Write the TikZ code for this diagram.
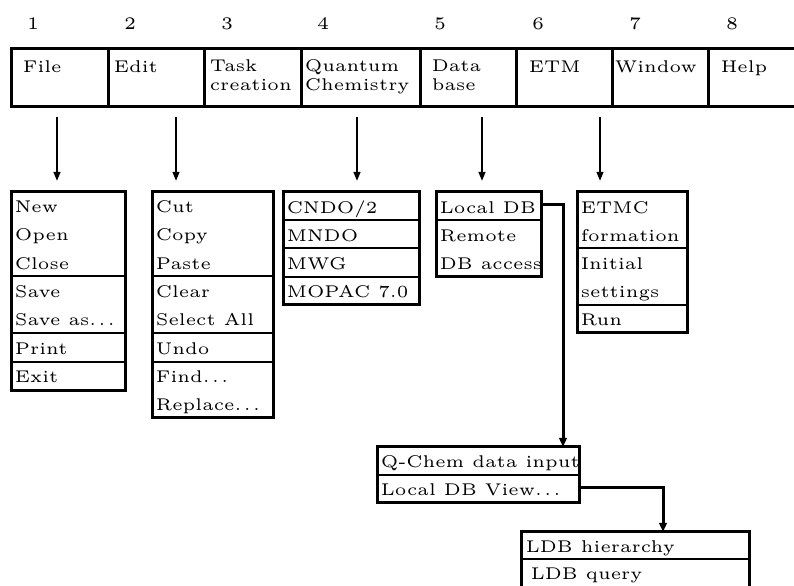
\documentclass[tikz,border=0pt]{standalone}
\usetikzlibrary{arrows.meta}

\newcommand{\ddd}{.\kern.6pt.\kern.6pt.}
\tikzset{
  menu/.style={line width=0.75pt},
  sep/.style={line width=0.55pt},
  item/.style={anchor=base west, inner sep=0pt, font=\fontsize{4.25}{5}\selectfont},
  num/.style={anchor=base, inner sep=0pt, font=\fontsize{4.4}{5}\selectfont},
  arr/.style={line width=0.5pt, -{Triangle[length=2.3pt,width=1.7pt]}},
  link/.style={line width=0.75pt, -{Triangle[length=2.3pt,width=1.9pt]}}
}

\begin{document}
\begin{tikzpicture}[x=0.25pt,y=-0.25pt]
\useasboundingbox (0,0) rectangle (794,586);
% menu bar
\node[num] (n1) at (33,30) {1}; \node[num] (n2) at (130,30) {2}; \node[num] (n3) at (227,30) {3}; \node[num] (n4) at (323,30) {4};
\node[num] (n5) at (440,30) {5}; \node[num] (n6) at (538,30) {6}; \node[num] (n7) at (635,30) {7}; \node[num] (n8) at (732,30) {8};
\draw[menu] (11,49) rectangle (810,107);
\draw[menu] (108,49)--(108,107) (204,49)--(204,107) (301,49)--(301,107) (420,49)--(420,107) (516,49)--(516,107) (612,49)--(612,107) (708,49)--(708,107);
\node[item] (file) at (22,73) {File}; \node[item] (edit) at (113,73) {Edit};
\node[item] (task) at (209,72) {Task}; \node[item] (task2) at (209,91) {creation};
\node[item] (quant) at (304,72) {Quantum}; \node[item] (quant2) at (304,91) {Chemistry};
\node[item] (data) at (431,72) {Data}; \node[item] (data2) at (431,91) {base};
\node[item] (etm) at (528,73) {ETM}; \node[item] (window) at (614,73) {Window}; \node[item] (help) at (720,73) {Help};
% arrows down
\coordinate (fA) at (57,117); \coordinate (fB) at (57,181);
\coordinate (eA) at (176,117); \coordinate (eB) at (176,181);
\coordinate (qA) at (357,117); \coordinate (qB) at (357,181);
\coordinate (dA) at (482,117); \coordinate (dB) at (482,181);
\coordinate (tA) at (600,117); \coordinate (tB) at (600,181);
\draw[arr] (fA)--(fB); \draw[arr] (eA)--(eB); \draw[arr] (qA)--(qB); \draw[arr] (dA)--(dB); \draw[arr] (tA)--(tB);
% File
\draw[menu] (11,192) rectangle (125,391);
\draw[sep] (11,276)--(125,276) (11,333)--(125,333) (11,362)--(125,362);
\node[item] (new) at (14,213) {New}; \node[item] (open) at (14,241) {Open}; \node[item] (close) at (14,270) {Close};
\node[item] (save) at (14,298) {Save}; \node[item] (saveas) at (14,326) {Save as\ddd};
\node[item] (print) at (14,355) {Print}; \node[item] (exit) at (14,383) {Exit};
% Edit
\draw[menu] (152,192) rectangle (273,418);
\draw[sep] (152,276)--(273,276) (152,333)--(273,333) (152,362)--(273,362);
\node[item] (cut) at (155,213) {Cut}; \node[item] (copy) at (155,241) {Copy}; \node[item] (paste) at (155,270) {Paste};
\node[item] (clear) at (155,298) {Clear}; \node[item] (selall) at (155,326) {Select All};
\node[item] (undo) at (155,355) {Undo}; \node[item] (find) at (155,383) {Find\ddd}; \node[item] (repl) at (155,411) {Replace\ddd};
% Quantum Chemistry
\draw[menu] (283,192) rectangle (419,305);
\draw[sep] (283,220)--(419,220) (283,248)--(419,248) (283,277)--(419,277);
\node[item] (cndo) at (286,214) {CNDO/2}; \node[item] (mndo) at (286,242) {MNDO};
\node[item] (mwg) at (286,270) {MWG}; \node[item] (mopac) at (286,298) {MOPAC 7.0};
% Data base
\draw[menu] (436,192) rectangle (541,277);
\draw[sep] (436,220)--(541,220);
\node[item] (localdb) at (439,214) {Local DB}; \node[item] (remote) at (439,242) {Remote}; \node[item] (dbacc) at (439,270) {DB access};
% ETM
\draw[menu] (577,192) rectangle (687,333);
\draw[sep] (577,248)--(687,248) (577,305)--(687,305);
\node[item] (etmc) at (580,214) {ETMC}; \node[item] (form) at (580,242) {formation};
\node[item] (init) at (580,270) {Initial}; \node[item] (sett) at (580,298) {settings}; \node[item] (run) at (580,326) {Run};
% Local DB
\draw[menu] (377,447) rectangle (579,503);
\draw[sep] (377,475)--(579,475);
\node[item] (qchem) at (380,468) {Q-Chem data input}; \node[item] (ldbview) at (380,496) {Local DB View\ddd};
\draw[menu] (521,532) rectangle (749,600);
\draw[sep] (521,559)--(749,559);
\node[item] (ldbh) at (525,553) {LDB hierarchy}; \node[item] (ldbq) at (530,580) {LDB query};
% links
\coordinate (dbR) at (541,205); \coordinate (qcIn) at (563,447);
\coordinate (qcR) at (579,488); \coordinate (ldbIn) at (663,532);
\draw[link] (dbR) -| (qcIn); \draw[link] (qcR) -| (ldbIn);
\end{tikzpicture}
\end{document}
